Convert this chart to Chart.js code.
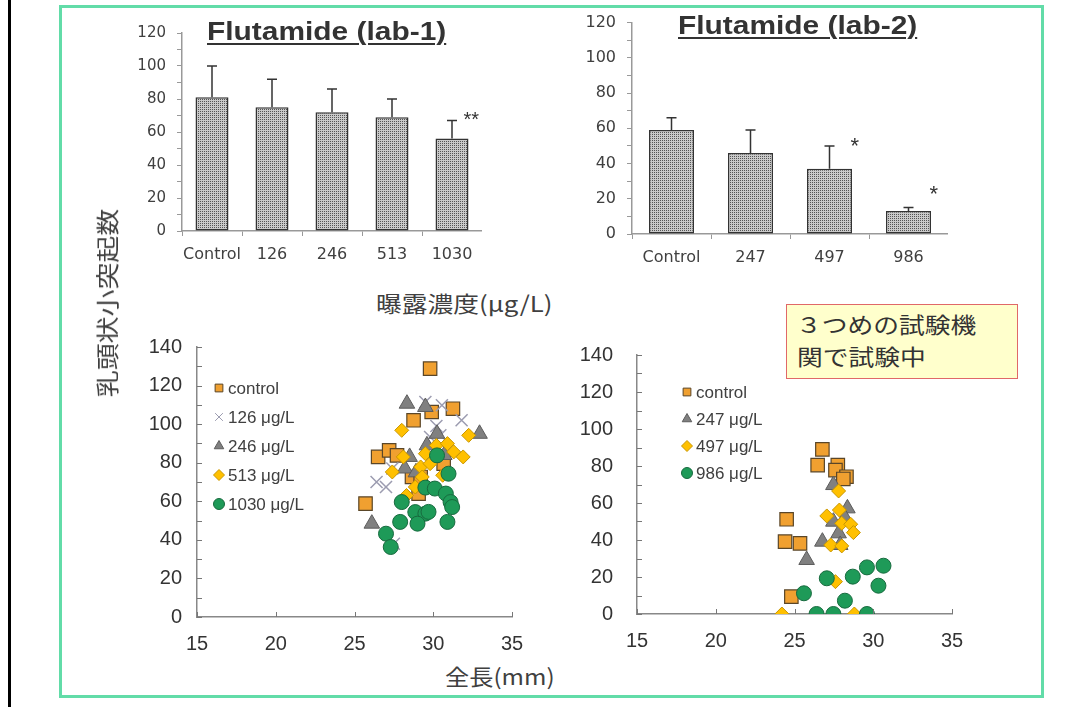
<!DOCTYPE html>
<html>
<head>
<meta charset="utf-8">
<script src="https://cdn.jsdelivr.net/npm/chart.js"></script>
<style>
  body { margin: 0; background: #fff; width: 1073px; height: 707px; position: relative; overflow: hidden;
         font-family: "Liberation Sans", Arial, sans-serif; color: #404040; }
  canvas { position: absolute; }
  .txt { position: absolute; white-space: nowrap; transform-origin: left top; }
  .jp { font-family: "Noto Sans CJK JP", sans-serif; }
  #blackbar { position: absolute; left: 8px; top: 0; width: 3px; height: 707px; background: #000; }
  #frame { position: absolute; left: 59px; top: 5px; width: 985px; height: 693px; box-sizing: border-box;
           border: 3px solid #62dca8; }
  .title { font-weight: bold; font-size: 26px; line-height: 26px; color: #333; text-decoration: underline;
           text-decoration-thickness: 2px; text-underline-offset: 3px; transform: scaleX(1.15); }
  #note { position: absolute; left: 786px; top: 304px; width: 232px; height: 75px; box-sizing: border-box;
          border: 1.5px solid #e06868; background: #ffffcc; color: #333; }
  #note .txt { font-size: 22px; line-height: 22px; transform: scaleX(1.17); }
</style>
</head>
<body>
<div id="blackbar"></div>
<div id="frame"></div>

<canvas id="bar1" width="360" height="258" style="left:122px; top:13px"></canvas>
<canvas id="bar2" width="376" height="272" style="left:572px; top:2px"></canvas>
<canvas id="sc1" width="402" height="337" style="left:137px; top:320px"></canvas>
<canvas id="sc2" width="402" height="335" style="left:577px; top:319px"></canvas>

<div class="txt title" style="left:207px; top:18px">Flutamide (lab-1)</div>
<div class="txt title" style="left:678px; top:12px">Flutamide (lab-2)</div>
<div class="txt jp" style="left:376px; top:290px; font-size:22px; line-height:24px; transform:scaleX(1.17)">曝露濃度(μg/L)</div>
<div class="txt jp" style="left:445px; top:663px; font-size:22px; line-height:24px; transform:scaleX(1.1)">全長(mm)</div>
<div class="txt jp" style="left:106px; top:303px; font-size:23px; line-height:24px; transform-origin:center center;
     transform: translate(-50%,-50%) rotate(-90deg) scaleX(1.17)">乳頭状小突起数</div>
<div id="note" class="jp">
  <div class="txt" style="left:9px; top:7px">３つめの試験機</div>
  <div class="txt" style="left:10px; top:39px">関で試験中</div>
</div>

<script>
// ---- bar charts: mean and SD ----
const lab1Doses = ["Control", "126", "246", "513", "1030"];
const lab1Mean = [81, 75, 72, 69, 56];
const lab1SD = [19, 17, 14, 11, 11];
const lab1Sig = ["", "", "", "", "**"];
const lab1SigY = [0, 0, 0, 0, 70];

const lab2Doses = ["Control", "247", "497", "986"];
const lab2Mean = [59, 46, 37, 13];
const lab2SD = [7, 13, 13, 2];
const lab2Sig = ["", "", "*", "*"];
const lab2SigY = [0, 0, 52, 25];

const barTicksY = { min: 0, max: 120, step: 10, labelEvery: 20 };

// ---- scatter: [total length mm, count] ----
const lab1Control = [[29.8,128.8],[29.9,106.3],[31.25,108],[28.75,102],[26.5,83],[27.2,86.4],[27.7,83.8],
  [28.65,72.6],[29.2,72.6],[29.07,64],[30.66,79.5],[25.7,58.8]];
const lab1Dose126 = [[26.4,70],[27.0,67.4],[29.5,111.5],[30.55,109.8],[31.8,102],[30.45,94.2],[29.8,93.3],
  [27.4,77],[27.5,38],[30.2,99],[29.3,76]];
const lab1Dose246 = [[28.33,110.6],[29.5,108.9],[32.94,95],[30.24,95],[29.6,89],[28.5,83],[28.2,77],
  [26.1,48.4],[30.7,84],[28.9,75]];
const lab1Dose513 = [[28.0,96.8],[32.25,94.2],[28.1,83],[27.4,75.2],[29.5,84.7],[29.2,77.8],[29.8,79.5],
  [30.2,89],[30.9,89.9],[31.3,85.6],[31.9,83],[29.3,72.6],[28.3,63],[28.86,67.4],[30.6,73.5]];
const lab1Dose1030 = [[30.24,83.8],[30.97,74.3],[29.5,67.1],[30.1,66.6],[30.8,64],[31.1,59.6],[31.2,57],
  [30.9,49.3],[28.0,59.6],[27.9,49.3],[28.86,54.4],[29.5,53.6],[29.7,54.5],[29.0,48.4],[27.0,43.2],[27.3,36.3]];

const lab2Control = [[26.77,89],[26.47,80.5],[27.75,80.5],[27.6,77.8],[28.3,74.2],[28.1,73],[24.5,51.2],
  [24.4,39.1],[25.35,38.2],[24.8,9.4]];
const lab2Dose247 = [[27.47,69.7],[28.36,57.1],[28.2,52],[27.47,49.9],[27.8,43.6],[26.77,39.1],[27.9,37.3],[25.77,29.2]];
const lab2Dose497 = [[27.8,66.5],[27.05,53],[27.85,56.2],[28.0,49],[28.57,48.5],[28.74,44],[27.3,37.3],
  [28.0,36.8],[27.6,17.5],[24.2,0],[28.8,0]];
const lab2Dose986 = [[25.6,11.2],[27.05,19.3],[28.7,20.2],[28.2,7.2],[29.6,25.2],[30.65,26.1],[30.33,15.3],
  [26.4,0],[27.47,0],[29.6,0]];

const lengthTicks = { min: 15, max: 35, step: 5 };
const countTicks = { min: 0, max: 140, step: 10, labelEvery: 20 };

// dotted grey fill like the original bars
function dotPattern() {
  var c = document.createElement("canvas");
  c.width = 2; c.height = 2;
  var g = c.getContext("2d");
  g.fillStyle = "#cacaca"; g.fillRect(0, 0, 2, 2);
  g.fillStyle = "#555"; g.fillRect(0, 0, 1, 1);
  return g.createPattern(c, "repeat");
}

// upper error bars + significance marks
var errorBars = {
  id: "errorBars",
  afterDatasetsDraw: function(chart, args, o) {
    var ctx = chart.ctx, meta = chart.getDatasetMeta(0), ys = chart.scales.y, xs = chart.scales.x;
    var cat = xs.width / o.mean.length;
    ctx.save();
    ctx.strokeStyle = "#333"; ctx.lineWidth = 1.5;
    o.mean.forEach(function(m, i) {
      var bar = meta.data[i];
      var top = ys.getPixelForValue(m + o.sd[i]);
      ctx.beginPath();
      ctx.moveTo(bar.x, bar.y); ctx.lineTo(bar.x, top);
      ctx.moveTo(bar.x - o.cap, top); ctx.lineTo(bar.x + o.cap, top);
      ctx.stroke();
      if (o.sig[i]) {
        ctx.fillStyle = "#333"; ctx.font = o.sigFont;
        ctx.textAlign = "center"; ctx.textBaseline = "middle";
        ctx.fillText(o.sig[i], bar.x + o.sigDx * cat, ys.getPixelForValue(o.sigY[i]) + 5);
      }
    });
    ctx.restore();
  }
};

// Excel-style inside tick marks
var insideTicks = {
  id: "insideTicks",
  afterDraw: function(chart) {
    var ctx = chart.ctx, a = chart.chartArea, x = chart.scales.x, y = chart.scales.y;
    ctx.save();
    ctx.strokeStyle = "#777"; ctx.lineWidth = 1;
    ctx.beginPath();
    y.ticks.forEach(function(t) {
      var py = Math.round(y.getPixelForValue(t.value)) + 0.5;
      ctx.moveTo(a.left, py); ctx.lineTo(a.left + 5, py);
    });
    x.ticks.forEach(function(t) {
      var px = Math.round(x.getPixelForValue(t.value)) + 0.5;
      ctx.moveTo(px, a.bottom); ctx.lineTo(px, a.bottom - 5);
    });
    ctx.stroke();
    ctx.restore();
  }
};

// legend drawn inside the plot area
var insideLegend = {
  id: "insideLegend",
  afterDraw: function(chart, args, o) {
    var ctx = chart.ctx;
    ctx.save();
    ctx.font = o.font; ctx.textBaseline = "middle"; ctx.textAlign = "left";
    chart.data.datasets.forEach(function(ds, i) {
      var y = o.y + i * o.gap;
      ctx.fillStyle = ds.backgroundColor; ctx.strokeStyle = ds.borderColor; ctx.lineWidth = 1;
      Chart.helpers.drawPoint(ctx, { pointStyle: ds.pointStyle, radius: o.r, rotation: 0, borderWidth: 1 }, o.x, y);
      ctx.fillStyle = "#404040";
      ctx.fillText(ds.label, o.x + o.dx, y + 1);
    });
    ctx.restore();
  }
};

function barChart(id, labels, mean, sd, sig, sigY, barPct, xFont, yFont, sigFont) {
  var ctx = document.getElementById(id).getContext("2d");
  return new Chart(ctx, {
    type: "bar",
    data: {
      labels: labels,
      datasets: [{
        data: mean,
        backgroundColor: dotPattern(),
        borderColor: "#333",
        borderWidth: 1.5,
        borderSkipped: false,
        barPercentage: barPct,
        categoryPercentage: 1
      }]
    },
    options: {
      responsive: false, animation: false, devicePixelRatio: 1,
      layout: { padding: 0 },
      plugins: {
        legend: { display: false },
        tooltip: { enabled: false },
        errorBars: { mean: mean, sd: sd, sig: sig, sigY: sigY, cap: 5, sigDx: 0.32, sigFont: sigFont }
      },
      scales: {
        x: {
          grid: { drawOnChartArea: false, tickLength: 5, color: "#999", offset: true },
          border: { color: "#999", width: 1.5 },
          ticks: { padding: 9, maxRotation: 0, minRotation: 0, autoSkip: false, color: "#404040",
                   font: { family: "DejaVu Sans", size: xFont } },
          afterFit: function(s) { s.height = 40; }
        },
        y: {
          min: barTicksY.min, max: barTicksY.max,
          grid: { drawOnChartArea: false, tickLength: 5, color: "#999" },
          border: { color: "#999", width: 1.5 },
          ticks: {
            stepSize: barTicksY.step, autoSkip: false, padding: 11, color: "#404040",
            font: { family: "DejaVu Sans", size: yFont },
            callback: function(v) { return v % barTicksY.labelEvery === 0 ? v : ""; }
          },
          afterFit: function(s) { s.width = 60; }
        }
      }
    },
    plugins: [errorBars]
  });
}

barChart("bar1", lab1Doses, lab1Mean, lab1SD, lab1Sig, lab1SigY, 0.55, 16, 15, "20px Liberation Sans");
barChart("bar2", lab2Doses, lab2Mean, lab2SD, lab2Sig, lab2SigY, 0.57, 16, 16, "22px Liberation Sans");

var styles = {
  control: { pointStyle: "rect", pointRadius: 9.5, backgroundColor: "#f0a030", borderColor: "#5a4628", borderWidth: 1.2 },
  cross:   { pointStyle: "crossRot", pointRadius: 8.5, backgroundColor: "#a0a0ac", borderColor: "#9c9cb0", borderWidth: 1.5 },
  tri:     { pointStyle: "triangle", pointRadius: 9, backgroundColor: "#808080", borderColor: "#5c5c5c", borderWidth: 1 },
  dia:     { pointStyle: "rectRot", pointRadius: 7, backgroundColor: "#ffc000", borderColor: "#c89600", borderWidth: 1 },
  dot:     { pointStyle: "circle", pointRadius: 7.5, backgroundColor: "#1e9a58", borderColor: "#176a3e", borderWidth: 1 }
};

function series(label, pairs, st, order) {
  return Object.assign({
    label: label,
    data: pairs.map(function(p) { return { x: p[0], y: p[1] }; }),
    order: order
  }, st);
}

function scatterChart(id, datasets, yPad, legend) {
  var ctx = document.getElementById(id).getContext("2d");
  return new Chart(ctx, {
    type: "scatter",
    data: { datasets: datasets },
    options: {
      responsive: false, animation: false, devicePixelRatio: 1,
      layout: { padding: { top: 0, right: 27, bottom: 0, left: 0 } },
      plugins: { legend: { display: false }, tooltip: { enabled: false }, insideLegend: legend },
      scales: {
        x: {
          type: "linear", min: lengthTicks.min, max: lengthTicks.max,
          grid: { drawOnChartArea: false, drawTicks: false },
          border: { color: "#888", width: 1.5 },
          ticks: { stepSize: lengthTicks.step, padding: 15, color: "#333", font: { family: "Liberation Sans", size: 20 } },
          afterFit: function(s) { s.height = 40; }
        },
        y: {
          min: countTicks.min, max: countTicks.max,
          grid: { drawOnChartArea: false, drawTicks: false },
          border: { color: "#888", width: 1.5 },
          ticks: {
            stepSize: countTicks.step, autoSkip: false, padding: yPad, color: "#333",
            font: { family: "Liberation Sans", size: 20 },
            callback: function(v) { return v % countTicks.labelEvery === 0 ? v : ""; }
          },
          afterFit: function(s) { s.width = 60; }
        }
      }
    },
    plugins: [insideTicks, insideLegend]
  });
}

scatterChart("sc1", [
  series("control", lab1Control, styles.control, 5),
  series("126 μg/L", lab1Dose126, styles.cross, 4),
  series("246 μg/L", lab1Dose246, styles.tri, 3),
  series("513 μg/L", lab1Dose513, styles.dia, 2),
  series("1030 μg/L", lab1Dose1030, styles.dot, 1)
], 15, { x: 82, y: 68, gap: 29, r: 5.5, dx: 9, font: "17px Liberation Sans" });

scatterChart("sc2", [
  series("control", lab2Control, styles.control, 4),
  series("247 μg/L", lab2Dose247, styles.tri, 3),
  series("497 μg/L", lab2Dose497, styles.dia, 2),
  series("986 μg/L", lab2Dose986, styles.dot, 1)
], 24, { x: 110, y: 73, gap: 27, r: 5.5, dx: 9, font: "17px Liberation Sans" });
</script>
</body>
</html>
